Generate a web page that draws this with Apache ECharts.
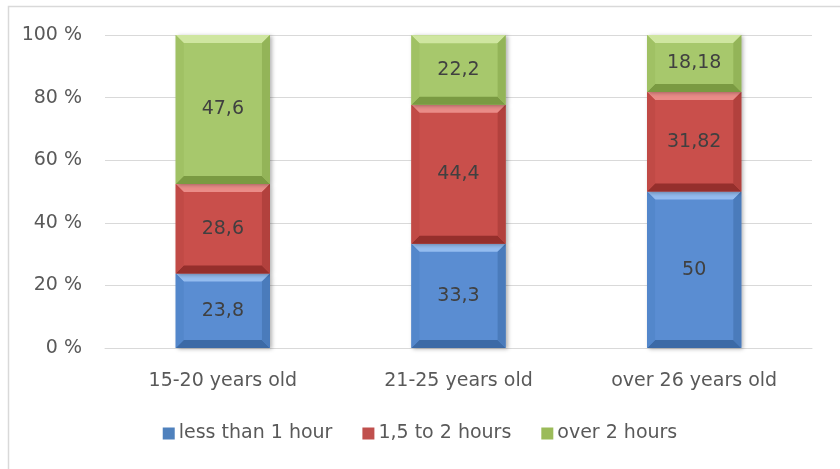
<!DOCTYPE html>
<html><head><meta charset="utf-8">
<script src="https://cdn.jsdelivr.net/npm/echarts@6/dist/echarts.min.js"></script>
<style>html,body{margin:0;padding:0;background:#fff}#c{width:840px;height:469px}</style>
</head><body><div id="c"></div>
<script>
const categories = ['15-20 years old', '21-25 years old', 'over 26 years old'];
const seriesNames = ['less than 1 hour', '1,5 to 2 hours', 'over 2 hours'];
const lessThan1Hour = [23.8, 33.3, 50];
const oneHalfTo2Hours = [28.6, 44.4, 31.82];
const over2Hours = [47.6, 22.2, 18.18];
const labelsLess = ['23,8', '33,3', '50'];
const labelsMid = ['28,6', '44,4', '31,82'];
const labelsOver = ['47,6', '22,2', '18,18'];
const yTicks = [0, 20, 40, 60, 80, 100];

const FONT = '"DejaVu Sans", sans-serif';
const palette = [
  {main:'#5a8dd2', light:'#94bcef', dark:'#3c6aa6', side:'#5387cb', sideR:'#4a7bbb', leg:'#4f81bd'},
  {main:'#c94f4b', light:'#ea8c88', dark:'#952f2c', side:'#c14a46', sideR:'#b2413d', leg:'#c0504d'},
  {main:'#a7c86c', light:'#cfe6a0', dark:'#7a9a42', side:'#a0c164', sideR:'#93b458', leg:'#9bbb59'}
];
const allVals = [lessThan1Hour, oneHalfTo2Hours, over2Hours];
const allLabels = [labelsLess, labelsMid, labelsOver];

function makeData(si){
  return categories.map((c, ci) => {
    let base = 0;
    for (let k = 0; k < si; k++) base += allVals[k][ci];
    return [ci, base, allVals[si][ci]];
  });
}

function renderFactory(si){
  const col = palette[si];
  return function(params, api){
    const ci = api.value(0), base = api.value(1), v = api.value(2);
    const p0 = api.coord([ci, base]);
    const p1 = api.coord([ci, base + v]);
    const bw = api.size([1, 0])[0] * 0.4;
    const l = p0[0] - bw/2, r = l + bw, b = p0[1], t = p1[1];
    const h = b - t;
    const e = Math.min(8, h/3);
    const lbl = allLabels[si][ci];
    return {
      type:'group',
      children:[
        {type:'rect', shape:{x:l, y:t, width:bw, height:h}, style:{fill:col.main, shadowBlur:4, shadowOffsetX:2, shadowOffsetY:1, shadowColor:'rgba(0,0,0,0.3)'}},
        {type:'polygon', shape:{points:[[l,t],[r,t],[r-e,t+e],[l+e,t+e]]}, style:{fill:col.light}},
        {type:'polygon', shape:{points:[[l,b],[r,b],[r-e,b-e],[l+e,b-e]]}, style:{fill:col.dark}},
        {type:'polygon', shape:{points:[[l,t],[l+e,t+e],[l+e,b-e],[l,b]]}, style:{fill:col.side}},
        {type:'polygon', shape:{points:[[r,t],[r-e,t+e],[r-e,b-e],[r,b]]}, style:{fill:col.sideR}},
        {type:'text', style:{text:lbl, x:(l+r)/2, y:(t+b)/2, align:'center', verticalAlign:'middle', fill:'#404040', font:'19px ' + FONT}}
      ]
    };
  };
}

const chart = echarts.init(document.getElementById('c'), null, {renderer:'canvas'});
chart.setOption({
  animation:false,
  graphic:[{type:'rect', left:6, top:4, z:-10, shape:{width:860, height:500}, style:{fill:'none', stroke:'#d9d9d9', lineWidth:1.5}}],
  grid:{left:105, right:28, top:35, bottom:121, containLabel:false},
  xAxis:{type:'category', data:categories,
    axisLine:{lineStyle:{color:'#d9d9d9', width:1}}, axisTick:{show:false},
    axisLabel:{color:'#595959', fontSize:19, fontFamily:FONT, margin:24}},
  yAxis:{type:'value', min:0, max:100, interval:20,
    axisLine:{show:false}, axisTick:{show:false},
    splitLine:{lineStyle:{color:'#d9d9d9', width:1}},
    axisLabel:{color:'#595959', fontSize:19, fontFamily:FONT, margin:23,
      formatter:function(v){return yTicks.indexOf(v) >= 0 ? v + ' %' : '';}}},
  legend:{bottom:21, left:'center', icon:'rect', itemWidth:12, itemHeight:12, itemGap:30,
    data:seriesNames,
    textStyle:{color:'#595959', fontSize:19, fontFamily:FONT, padding:[0,0,0,-1]}},
  series:[0,1,2].map(si => ({
    type:'custom', name:seriesNames[si],
    itemStyle:{color:palette[si].leg},
    encode:{x:0, y:[1,2]},
    data:makeData(si),
    renderItem:renderFactory(si)
  }))
});
</script></body></html>
